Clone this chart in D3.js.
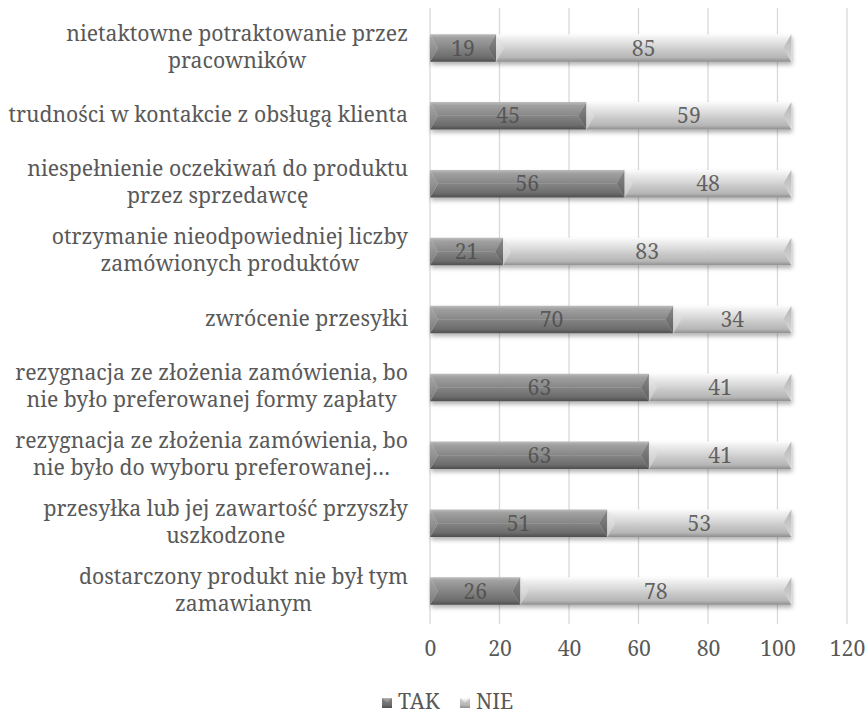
<!DOCTYPE html>
<html>
<head>
<meta charset="utf-8">
<script src="https://cdn.jsdelivr.net/npm/d3@7"></script>
<style>
  html, body { margin: 0; padding: 0; background: #fff; }
  svg { display: block; }
</style>
</head>
<body>
<svg id="chart" width="868" height="714"></svg>
<script>
const categories = [
  "nietaktowne potraktowanie przez\npracowników",
  "trudności w kontakcie z obsługą klienta",
  "niespełnienie oczekiwań do produktu\nprzez sprzedawcę",
  "otrzymanie nieodpowiedniej liczby\nzamówionych produktów",
  "zwrócenie przesyłki",
  "rezygnacja ze złożenia zamówienia, bo\nnie było preferowanej formy zapłaty",
  "rezygnacja ze złożenia zamówienia, bo\nnie było do wyboru preferowanej…",
  "przesyłka lub jej zawartość przyszły\nuszkodzone",
  "dostarczony produkt nie był tym\nzamawianym"
];
const tak = [19, 45, 56, 21, 70, 63, 63, 51, 26];
const nie = [85, 59, 48, 83, 34, 41, 41, 53, 78];
const seriesNames = ["TAK", "NIE"];
const tickValues = [0, 20, 40, 60, 80, 100, 120];

const FONT = "'Noto Serif', 'DejaVu Serif', serif";
const TXT = "#595959";

const svg = d3.select("#chart");

// fit font size so the widest single-line label matches the reference width
const probe = svg.append("text").attr("font-family", FONT).attr("font-size", 100)
  .text("trudności w kontakcie z obsługą klienta");
const probeW = probe.node().getComputedTextLength();
probe.remove();
const fs = Math.round(100 * 399 / probeW * 10) / 10;

const x = d3.scaleLinear().domain([0, 120]).range([430, 847]);
const y = d3.scaleBand().domain(categories).range([14, 625]).paddingInner(0.595).paddingOuter(0.2975);

const defs = svg.append("defs");
function grad(id, stops, x1 = 0, y1 = 0, x2 = 0, y2 = 1) {
  const g = defs.append("linearGradient").attr("id", id)
    .attr("x1", x1).attr("y1", y1).attr("x2", x2).attr("y2", y2);
  stops.forEach(s => g.append("stop").attr("offset", s[0]).attr("stop-color", s[1]));
}
// TAK (dark)
grad("takTop", [[0, "#bcbcbc"], [0.25, "#a0a0a0"], [1, "#868686"]]);
grad("takBot", [[0, "#858585"], [0.7, "#6c6c6c"], [1, "#4e4e4e"]]);
grad("takL", [[0, "#aaaaaa"], [1, "#7a7a7a"]]);
grad("takR", [[0, "#8a8a8a"], [1, "#5e5e5e"]]);
// NIE (light)
grad("nieTop", [[0, "#fcfcfc"], [0.3, "#eeeeee"], [1, "#d2d2d2"]]);
grad("nieBot", [[0, "#d0d0d0"], [0.7, "#b6b6b6"], [1, "#8e8e8e"]]);
grad("nieL", [[0, "#f0f0f0"], [1, "#c4c4c4"]]);
grad("nieR", [[0, "#b4b4b4"], [1, "#d8d8d8"]]);

const f = defs.append("filter").attr("id", "shadow")
  .attr("x", "-5%").attr("y", "-30%").attr("width", "110%").attr("height", "180%");
f.append("feDropShadow").attr("dx", 1).attr("dy", 3).attr("stdDeviation", 2)
  .attr("flood-color", "#000").attr("flood-opacity", 0.3);

// gridlines
svg.append("g").selectAll("line").data(tickValues).join("line")
  .attr("x1", d => x(d)).attr("x2", d => x(d))
  .attr("y1", 8).attr("y2", 624)
  .attr("stroke", "#d9d9d9").attr("stroke-width", 1.3);

// bars
const rows = categories.map((c, i) => ({ c, vals: [tak[i], nie[i]] }));
const keys = [["takTop", "takBot", "takL", "takR"], ["nieTop", "nieBot", "nieL", "nieR"]];

rows.forEach(r => {
  const g = svg.append("g").attr("filter", "url(#shadow)");
  let acc = 0;
  const h = y.bandwidth();
  const y0 = y(r.c);
  r.vals.forEach((v, si) => {
    const x0 = x(acc), x1 = x(acc + v);
    const w = x1 - x0;
    const b = Math.min(8, w / 2);
    const m = y0 + h / 2;
    const k = keys[si];
    const seg = g.append("g");
    seg.append("polygon").attr("points", [[x0, y0], [x1, y0], [x1 - b, m], [x0 + b, m]].join(" ")).attr("fill", `url(#${k[0]})`);
    seg.append("polygon").attr("points", [[x0 + b, m], [x1 - b, m], [x1, y0 + h], [x0, y0 + h]].join(" ")).attr("fill", `url(#${k[1]})`);
    seg.append("polygon").attr("points", [[x0, y0], [x0 + b, m], [x0, y0 + h]].join(" ")).attr("fill", `url(#${k[2]})`);
    seg.append("polygon").attr("points", [[x1, y0], [x1, y0 + h], [x1 - b, m]].join(" ")).attr("fill", `url(#${k[3]})`);
    acc += v;
  });
});

// data labels
rows.forEach(r => {
  let acc = 0;
  r.vals.forEach(v => {
    svg.append("text")
      .attr("x", (x(acc) + x(acc + v)) / 2)
      .attr("y", y(r.c) + y.bandwidth() / 2)
      .attr("dy", "0.36em")
      .attr("text-anchor", "middle")
      .attr("font-family", FONT).attr("font-size", fs)
      .attr("fill", "#4d4d4d").attr("fill-opacity", 0.85)
      .text(v);
    acc += v;
  });
});

// category labels
const lineH = 27;
categories.forEach(c => {
  const lines = c.split("\n");
  const t = svg.append("text").attr("font-family", FONT).attr("font-size", fs)
    .attr("fill", TXT).attr("text-anchor", "middle");
  const spans = lines.map(l => t.append("tspan").text(l));
  const maxW = d3.max(spans, s => s.node().getComputedTextLength());
  const cx = 408 - maxW / 2;
  const cy = y(c) + y.bandwidth() / 2 - 1.5;
  const top = cy - (lines.length - 1) * lineH / 2;
  spans.forEach((s, i) => s.attr("x", cx).attr("y", top + i * lineH).attr("dy", "0.36em"));
});

// x axis
const ax = svg.append("g").attr("transform", "translate(0,624)")
  .call(d3.axisBottom(x).tickValues(tickValues).tickSize(0).tickPadding(24).tickFormat(d3.format("d")));
ax.select(".domain").remove();
ax.selectAll("text").attr("dy", "0.36em").attr("font-family", FONT).attr("font-size", fs).attr("fill", TXT);

// legend
const legend = svg.append("g");
const legX = [382, 460];
seriesNames.forEach((n, i) => {
  const k = keys[i];
  legend.append("rect").attr("x", legX[i]).attr("y", 698).attr("width", 10).attr("height", 10)
    .attr("fill", `url(#${k[1]})`);
  legend.append("polygon")
    .attr("points", [[legX[i], 698], [legX[i] + 10, 698], [legX[i] + 5, 703]].join(" "))
    .attr("fill", `url(#${k[0]})`);
  legend.append("text").attr("x", legX[i] + 16).attr("y", 701).attr("dy", "0.36em")
    .attr("font-family", FONT).attr("font-size", fs).attr("fill", TXT).text(n);
});
</script>
</body>
</html>
